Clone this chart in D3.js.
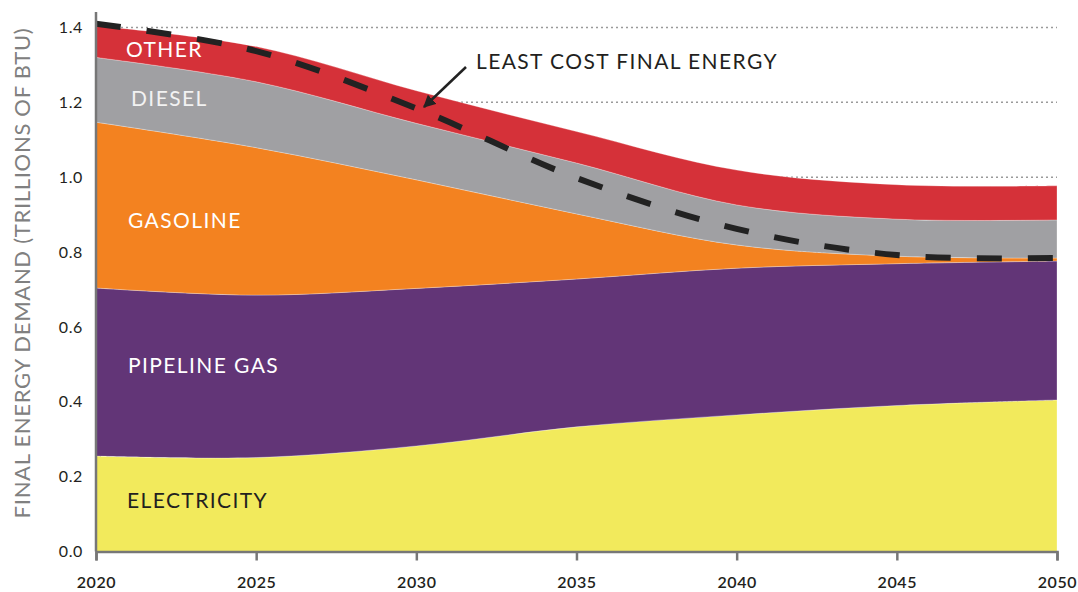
<!DOCTYPE html>
<html lang="en">
<meta http-equiv="content-type" content="text/html; charset=utf-8" />
<script src='https://d3js.org/d3.v7.min.js'></script>
<style>
  body {margin: 0; background: white;}
  text {font-family: Lato, "Open Sans", sans-serif;}
</style>
<body>
<svg width=1078 height=592></svg>
<script>
// values (trillions of BTU)
var years = [2020, 2025, 2030, 2035, 2040, 2045, 2050];
var electricity = [0.255, 0.251, 0.282, 0.333, 0.365, 0.390, 0.405];
var pipelineGas = [0.449, 0.434, 0.421, 0.395, 0.392, 0.379, 0.371];
var gasoline    = [0.443, 0.394, 0.290, 0.174, 0.062, 0.020, 0.008];
var diesel      = [0.173, 0.176, 0.151, 0.136, 0.107, 0.099, 0.102];
var other       = [0.085, 0.094, 0.087, 0.084, 0.093, 0.092, 0.091];
var leastCost   = [1.410, 1.337, 1.184, 0.998, 0.862, 0.792, 0.784];

var seriesNames = ["ELECTRICITY", "PIPELINE GAS", "GASOLINE", "DIESEL", "OTHER"];
var seriesVals = [electricity, pipelineGas, gasoline, diesel, other];
var yTicks = [0, 0.2, 0.4, 0.6, 0.8, 1.0, 1.2, 1.4];
var xTicks = [2020, 2025, 2030, 2035, 2040, 2045, 2050];

var colors = ["#f2ea5c", "#623577", "#f38220", "#a0a0a3", "#d53139"];
var labelColors = ["#231f20", "#ffffff", "#ffffff", "#f2f2f2", "#ffffff"];
var labelPos = [[127, 508], [128, 373], [128, 228], [131, 106], [126, 57]];

var svg = d3.select("svg");

var x = d3.scaleLinear().domain([2020, 2050]).range([96, 1057]);
var y = d3.scaleLinear().domain([0, 1.4]).range([551.5, 27.5]);
var curve = d3.curveCatmullRom.alpha(0.5);

// table for the stack
var table = years.map(function(yr, i) {
  var row = {year: yr};
  seriesNames.forEach(function(n, j) { row[n] = seriesVals[j][i]; });
  return row;
});
var stacked = d3.stack().keys(seriesNames)(table);

// dotted gridlines
svg.append("g").selectAll("line")
  .data(yTicks.filter(function(d) { return d > 0; }))
  .enter().append("line")
  .attr("x1", x(2020)).attr("x2", x(2050))
  .attr("y1", function(d) { return y(d); })
  .attr("y2", function(d) { return y(d); })
  .attr("stroke", "#9a9a9a")
  .attr("stroke-width", 1.5)
  .attr("stroke-dasharray", "2,3");

var area = d3.area()
  .curve(curve)
  .x(function(d) { return x(d.data.year); })
  .y0(function(d) { return y(d[0]); })
  .y1(function(d) { return y(d[1]); });

svg.append("g").selectAll("path")
  .data(stacked)
  .enter().append("path")
  .attr("d", area)
  .attr("fill", function(d, i) { return colors[i]; })
  .attr("stroke", "rgba(255,255,255,0.35)")
  .attr("stroke-width", 0.8);

// series labels
svg.append("g").selectAll("text")
  .data(seriesNames)
  .enter().append("text")
  .attr("x", function(d, i) { return labelPos[i][0]; })
  .attr("y", function(d, i) { return labelPos[i][1]; })
  .attr("fill", function(d, i) { return labelColors[i]; })
  .attr("font-size", "21px")
  .attr("letter-spacing", "1.4px")
  .text(function(d) { return d; });

// least cost dashed line
var line = d3.line()
  .curve(curve)
  .x(function(d, i) { return x(years[i]); })
  .y(function(d) { return y(d); });

svg.append("path")
  .attr("d", line(leastCost))
  .attr("fill", "none")
  .attr("stroke", "#222222")
  .attr("stroke-width", 6)
  .attr("stroke-dasharray", "25,26");

// axes
var xAxis = d3.axisBottom(x).tickValues(xTicks).tickFormat(d3.format("d")).tickSize(9).tickPadding(16);
var gx = svg.append("g").attr("transform", "translate(0," + y(0) + ")").call(xAxis);
gx.select(".domain").attr("stroke", "#777").attr("stroke-width", 2.5);
gx.selectAll(".tick line").attr("stroke", "#777").attr("stroke-width", 2.5);
gx.selectAll("text").attr("font-size", "16px").attr("font-weight", "600").attr("fill", "#231f20")
  .attr("letter-spacing", "0.6px")
  .style("font-family", "Lato, sans-serif");

var yAxis = d3.axisLeft(y).tickValues(yTicks).tickFormat(d3.format(".1f")).tickSize(0).tickPadding(13);
var gy = svg.append("g").attr("transform", "translate(" + x(2020) + ",0)").call(yAxis);
gy.select(".domain").remove();
gy.selectAll("text").attr("font-size", "16px").attr("fill", "#231f20")
  .attr("letter-spacing", "0.6px")
  .style("font-family", "Lato, sans-serif");
svg.append("line")
  .attr("x1", x(2020)).attr("x2", x(2020))
  .attr("y1", 12).attr("y2", y(0))
  .attr("stroke", "#777").attr("stroke-width", 2.5);

svg.append("text")
  .attr("transform", "translate(30," + 273 + ") rotate(-90)")
  .attr("text-anchor", "middle")
  .attr("fill", "#808080")
  .attr("font-size", "22px")
  .attr("letter-spacing", "0.7px")
  .text("FINAL ENERGY DEMAND (TRILLIONS OF BTU)");

// annotation
svg.append("defs").append("marker")
  .attr("id", "arrow")
  .attr("viewBox", "0 0 10 10")
  .attr("refX", 9).attr("refY", 5)
  .attr("markerWidth", 5).attr("markerHeight", 5)
  .attr("orient", "auto")
  .append("path").attr("d", "M0,0 L10,5 L0,10 z").attr("fill", "#222");

svg.append("line")
  .attr("x1", 466).attr("y1", 67)
  .attr("x2", 424).attr("y2", 107)
  .attr("stroke", "#222").attr("stroke-width", 2.5)
  .attr("marker-end", "url(#arrow)");

svg.append("text")
  .attr("x", 476).attr("y", 69)
  .attr("fill", "#231f20")
  .attr("font-size", "21px")
  .attr("letter-spacing", "1.4px")
  .text("LEAST COST FINAL ENERGY");
</script>
</body>
</html>
